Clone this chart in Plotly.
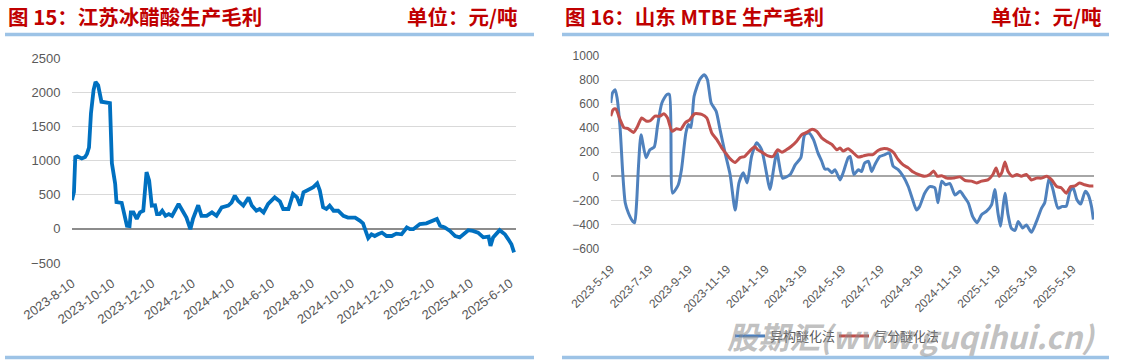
import plotly.graph_objects as go

W, H = 1121, 360

# ---------------- data ----------------
# Fig 15: Jiangsu glacial acetic acid production gross margin (yuan/ton)
acetic_dates = [
    "2023-08-10", "2023-08-13", "2023-08-15", "2023-08-18", "2023-08-25", "2023-08-30",
    "2023-09-02", "2023-09-05", "2023-09-08", "2023-09-12", "2023-09-15", "2023-09-19",
    "2023-09-24", "2023-10-07", "2023-10-10", "2023-10-15", "2023-10-17", "2023-10-25",
    "2023-11-02", "2023-11-06", "2023-11-08", "2023-11-12", "2023-11-17", "2023-11-22",
    "2023-11-27", "2023-12-02", "2023-12-06", "2023-12-10", "2023-12-15", "2023-12-18",
    "2023-12-22", "2023-12-26", "2023-12-31", "2024-01-05", "2024-01-10", "2024-01-20",
    "2024-01-26", "2024-02-01", "2024-02-07", "2024-02-11", "2024-02-19", "2024-02-24",
    "2024-03-03", "2024-03-11", "2024-03-18", "2024-03-26", "2024-04-05", "2024-04-10",
    "2024-04-15", "2024-04-20", "2024-04-28", "2024-05-06", "2024-05-11", "2024-05-18",
    "2024-05-23", "2024-05-29", "2024-06-05", "2024-06-15", "2024-06-23", "2024-06-28",
    "2024-07-06", "2024-07-13", "2024-07-19", "2024-07-24", "2024-07-29", "2024-08-08",
    "2024-08-13", "2024-08-19", "2024-08-23", "2024-08-28", "2024-09-02", "2024-09-07",
    "2024-09-13", "2024-09-20", "2024-09-28", "2024-10-05", "2024-10-16", "2024-10-23",
    "2024-10-28", "2024-11-02", "2024-11-05", "2024-11-10", "2024-11-15", "2024-11-20",
    "2024-11-26", "2024-12-03", "2024-12-11", "2024-12-18", "2024-12-26", "2025-01-03",
    "2025-01-08", "2025-01-13", "2025-01-23", "2025-02-02", "2025-02-10", "2025-02-18",
    "2025-02-23", "2025-03-02", "2025-03-10", "2025-03-18", "2025-03-25", "2025-04-02",
    "2025-04-07", "2025-04-14", "2025-04-22", "2025-04-30", "2025-05-08", "2025-05-11",
    "2025-05-15", "2025-05-25", "2025-06-02", "2025-06-07", "2025-06-12", "2025-06-16",
]
acetic_margin = [
    420, 540, 1050, 1060, 1030, 1050,
    1100, 1190, 1690, 2030, 2150, 2100,
    1860, 1840, 960, 660, 390, 380,
    45, 40, 240, 240, 145, 240,
    265, 830, 705, 340, 345, 215,
    215, 265, 190, 215, 190, 365,
    265, 165, -5, 145, 345, 190,
    190, 240, 190, 315, 340, 385,
    485, 410, 340, 460, 340, 265,
    290, 240, 365, 460, 400, 290,
    290, 510, 460, 340, 535, 585,
    610, 665, 560, 315, 290, 340,
    265, 265, 190, 165, 165, 120,
    80, -55, -135, -80, -105, -80,
    -55, -105, -105, -70, -80, 20,
    -5, -5, 70, 80, 120, 145,
    45, 20, -30, -105, -125, -55,
    -20, -30, -55, -125, -115, -250,
    -125, -20, -80, -150, -225, -345,
]
acetic_tickvals = ["2023-08-10", "2023-10-10", "2023-12-10", "2024-02-10", "2024-04-10",
                   "2024-06-10", "2024-08-10", "2024-10-10", "2024-12-10", "2025-02-10",
                   "2025-04-10", "2025-06-10"]
acetic_ticktext = ["2023-8-10", "2023-10-10", "2023-12-10", "2024-2-10", "2024-4-10",
                   "2024-6-10", "2024-8-10", "2024-10-10", "2024-12-10", "2025-2-10",
                   "2025-4-10", "2025-6-10"]

# Fig 16: Shandong MTBE production gross margin (yuan/ton)
iso_dates = [
    "2023-05-19", "2023-05-22", "2023-05-26", "2023-05-29", "2023-06-03", "2023-06-07",
    "2023-06-11", "2023-06-16", "2023-06-23", "2023-06-26", "2023-06-29", "2023-07-02",
    "2023-07-06", "2023-07-14", "2023-07-20", "2023-07-27", "2023-08-01", "2023-08-08",
    "2023-08-16", "2023-08-20", "2023-08-25", "2023-09-03", "2023-09-08", "2023-09-15",
    "2023-09-19", "2023-09-23", "2023-09-28", "2023-10-07", "2023-10-14", "2023-10-19",
    "2023-10-25", "2023-11-02", "2023-11-08", "2023-11-16", "2023-11-24", "2023-12-02",
    "2023-12-08", "2023-12-15", "2023-12-21", "2023-12-28", "2024-01-05", "2024-01-13",
    "2024-01-21", "2024-01-26", "2024-02-06", "2024-02-15", "2024-02-27", "2024-03-06",
    "2024-03-15", "2024-03-21", "2024-03-28", "2024-04-04", "2024-04-11", "2024-04-17",
    "2024-04-22", "2024-04-27", "2024-05-03", "2024-05-08", "2024-05-16", "2024-05-21",
    "2024-05-29", "2024-06-01", "2024-06-07", "2024-06-14", "2024-06-19", "2024-06-24",
    "2024-06-30", "2024-07-05", "2024-07-10", "2024-07-18", "2024-07-26", "2024-08-02",
    "2024-08-08", "2024-08-16", "2024-08-24", "2024-09-01", "2024-09-08", "2024-09-14",
    "2024-09-19", "2024-09-27", "2024-10-05", "2024-10-13", "2024-10-18", "2024-10-24",
    "2024-10-30", "2024-11-06", "2024-11-14", "2024-11-22", "2024-11-28", "2024-12-05",
    "2024-12-12", "2024-12-19", "2024-12-26", "2025-01-03", "2025-01-11", "2025-01-16",
    "2025-01-21", "2025-01-25", "2025-01-28", "2025-02-01", "2025-02-06", "2025-02-11",
    "2025-02-17", "2025-02-22", "2025-03-01", "2025-03-07", "2025-03-15", "2025-03-23",
    "2025-03-31", "2025-04-05", "2025-04-12", "2025-04-18", "2025-04-26", "2025-05-03",
    "2025-05-09", "2025-05-15", "2025-05-20", "2025-05-26", "2025-06-01", "2025-06-08",
    "2025-06-13", "2025-06-18", "2025-06-21",
]
iso_margin = [
    610, 695, 720, 655, 390, 30,
    -220, -305, -375, -385, -220, 85,
    345, 155, 220, 245, 415, 610,
    680, 680, -140, -70, 55, 360,
    430, 405, 665, 805, 845, 805,
    610, 540, 390, 195, 15, -280,
    -55, 30, -55, 165, 280, 220,
    15, -110, 195, -15, 15, 95,
    155, 345, 360, 305, 195, 125,
    60, 60, 30, 55, -30, 30,
    155, 165, 15, 55, 40, 110,
    125, 40, 95, 165, 180, 195,
    85, 55, 0, -85, -195, -280,
    -250, -140, -85, -95, -220, -40,
    -70, -60, -155, -125, -165, -220,
    -335, -385, -320, -290, -235, -110,
    -305, -415, -305, -140, -320, -430,
    -450, -375, -430, -405, -465, -375,
    -265, -220, -15, -110, -265, -250,
    -250, -125, -95, -195, -230, -125,
    -155, -250, -360,
]
gas_dates = [
    "2023-05-19", "2023-05-23", "2023-05-27", "2023-06-03", "2023-06-09", "2023-06-16",
    "2023-06-24", "2023-06-30", "2023-07-07", "2023-07-14", "2023-07-20", "2023-07-28",
    "2023-08-05", "2023-08-11", "2023-08-17", "2023-08-24", "2023-08-31", "2023-09-07",
    "2023-09-14", "2023-09-21", "2023-09-29", "2023-10-10", "2023-10-18", "2023-10-26",
    "2023-11-03", "2023-11-11", "2023-11-19", "2023-11-25", "2023-12-02", "2023-12-10",
    "2023-12-17", "2023-12-25", "2024-01-02", "2024-01-07", "2024-01-15", "2024-01-23",
    "2024-01-31", "2024-02-07", "2024-02-14", "2024-02-21", "2024-02-29", "2024-03-08",
    "2024-03-16", "2024-03-24", "2024-04-01", "2024-04-09", "2024-04-17", "2024-04-25",
    "2024-05-03", "2024-05-11", "2024-05-16", "2024-05-21", "2024-05-29", "2024-06-06",
    "2024-06-14", "2024-06-22", "2024-06-30", "2024-07-07", "2024-07-15", "2024-07-23",
    "2024-08-03", "2024-08-09", "2024-08-16", "2024-08-24", "2024-09-01", "2024-09-09",
    "2024-09-17", "2024-09-27", "2024-10-05", "2024-10-11", "2024-10-17", "2024-10-24",
    "2024-11-01", "2024-11-11", "2024-11-22", "2024-11-30", "2024-12-10", "2024-12-18",
    "2024-12-26", "2025-01-05", "2025-01-13", "2025-01-18", "2025-01-23", "2025-01-27",
    "2025-02-01", "2025-02-06", "2025-02-13", "2025-02-20", "2025-02-27", "2025-03-07",
    "2025-03-15", "2025-03-23", "2025-03-31", "2025-04-08", "2025-04-16", "2025-04-24",
    "2025-05-01", "2025-05-09", "2025-05-16", "2025-05-23", "2025-05-30", "2025-06-07",
    "2025-06-15", "2025-06-21",
]
gas_margin = [
    500, 555, 560, 470, 405, 395,
    365, 410, 485, 460, 460, 500,
    500, 520, 485, 375, 395, 390,
    445, 470, 520, 515, 485, 360,
    305, 235, 180, 140, 115, 155,
    165, 210, 245, 220, 195, 170,
    165, 220, 200, 220, 250, 290,
    345, 365, 390, 375, 320, 290,
    265, 220, 235, 210, 230, 195,
    160, 170, 180, 180, 215, 230,
    220, 195, 140, 95, 70, 35,
    15, 0, 15, 45, 0, 5,
    -15, -15, -5, -35, -40, -55,
    -40, -30, 15, 70, 0, 30,
    120, 40, 0, 15, 0, 15,
    -30, -15, -15, 0, -30, -85,
    -95, -140, -85, -80, -55, -70,
    -80, -80,
]
mtbe_tickvals = ["2023-05-19", "2023-07-19", "2023-09-19", "2023-11-19", "2024-01-19",
                 "2024-03-19", "2024-05-19", "2024-07-19", "2024-09-19", "2024-11-19",
                 "2025-01-19", "2025-03-19", "2025-05-19"]
mtbe_ticktext = ["2023-5-19", "2023-7-19", "2023-9-19", "2023-11-19", "2024-1-19",
                 "2024-3-19", "2024-5-19", "2024-7-19", "2024-9-19", "2024-11-19",
                 "2025-1-19", "2025-3-19", "2025-5-19"]

series_names = ["异构醚化法", "气分醚化法"]

# ---------------- styling helpers ----------------
def px(x):
    return x / W

def py(y):
    return 1 - y / H

NUM_FONT = "Liberation Sans, Noto Sans CJK SC, sans-serif"
CJK_FONT = "Noto Sans CJK SC, sans-serif"
GRAY = "#595959"
GRID = "#D9D9D9"
TITLE_RED = "#C00000"
BAR_BLUE = "#9DC3E6"

fig = go.Figure()

fig.add_trace(go.Scatter(
    x=acetic_dates, y=acetic_margin, mode="lines",
    line=dict(color="#0070C0", width=3.8), showlegend=False,
    xaxis="x", yaxis="y",
))
fig.add_trace(go.Scatter(
    x=iso_dates, y=iso_margin, mode="lines", name=series_names[0],
    line=dict(color="#4F81BD", width=3, shape="spline", smoothing=0.6),
    xaxis="x2", yaxis="y2",
))
fig.add_trace(go.Scatter(
    x=gas_dates, y=gas_margin, mode="lines", name=series_names[1],
    line=dict(color="#C0504D", width=3, shape="spline", smoothing=0.6),
    xaxis="x2", yaxis="y2",
))

fig.update_layout(
    width=W, height=H,
    margin=dict(l=0, r=0, t=0, b=0, autoexpand=False),
    paper_bgcolor="white", plot_bgcolor="white",
    xaxis=dict(
        domain=[px(72), px(516)], anchor="y", type="date", automargin=False,
        range=["2023-08-10", "2025-06-19"],
        tickvals=acetic_tickvals, ticktext=acetic_ticktext, tickangle=-36,
        tickfont=dict(family=NUM_FONT, size=13, color=GRAY),
        showgrid=False, showline=False, zeroline=False,
        ticks="outside", ticklen=7, tickcolor="rgba(0,0,0,0)",
    ),
    yaxis=dict(
        domain=[py(263), py(58)], anchor="x", automargin=False,
        range=[-500, 2500], dtick=500,
        tickfont=dict(family=NUM_FONT, size=13, color=GRAY),
        gridcolor=GRID, gridwidth=1, showline=False,
        zeroline=True, zerolinecolor="#8C8C8C", zerolinewidth=1.5,
        ticks="outside", ticklen=8, tickcolor="rgba(0,0,0,0)",
    ),
    xaxis2=dict(
        domain=[px(610.7), px(1094)], anchor="y2", type="date", automargin=False,
        range=["2023-05-19", "2025-06-22"],
        tickvals=mtbe_tickvals, ticktext=mtbe_ticktext, tickangle=-45,
        tickfont=dict(family=NUM_FONT, size=12, color=GRAY),
        showgrid=False, showline=False, zeroline=False,
        ticks="outside", ticklen=8, tickcolor="rgba(0,0,0,0)",
    ),
    yaxis2=dict(
        domain=[py(248.5), py(56)], anchor="x2", automargin=False,
        range=[-600, 1000], dtick=200,
        tickfont=dict(family=NUM_FONT, size=12, color=GRAY),
        gridcolor=GRID, gridwidth=1, showline=False,
        zeroline=True, zerolinecolor="#A6A6A6", zerolinewidth=1.5,
        ticks="outside", ticklen=8, tickcolor="rgba(0,0,0,0)",
    ),
    # tick marks sitting on the zero line of the MTBE chart
    xaxis3=dict(
        overlaying="x2", anchor="free", position=py(176.7), type="date",
        automargin=False, range=["2023-05-19", "2025-06-22"], tickvals=mtbe_tickvals,
        showticklabels=False, showgrid=False, showline=False, zeroline=False,
        ticks="outside", ticklen=5, tickcolor="#A6A6A6", tickwidth=1.5,
    ),
    legend=dict(
        orientation="h", x=px(730), y=py(336), xanchor="left", yanchor="middle",
        font=dict(family=CJK_FONT, size=13, color=GRAY),
        bgcolor="rgba(0,0,0,0)", itemwidth=30, tracegroupgap=0,
        entrywidth=59, entrywidthmode="pixels",
    ),
)

# title bars and separators
for x0, x1 in [(5, 534), (562, 1109)]:
    fig.add_shape(type="line", xref="paper", yref="paper",
                  x0=px(x0), x1=px(x1), y0=py(34.6), y1=py(34.6),
                  line=dict(color=BAR_BLUE, width=3.5))
    fig.add_shape(type="line", xref="paper", yref="paper",
                  x0=px(x0), x1=px(x1), y0=py(357.5), y1=py(357.5),
                  line=dict(color=BAR_BLUE, width=3.5))

title_font = dict(family=CJK_FONT, size=20.5, color=TITLE_RED)
annos = [
    dict(text="<b>图 15：江苏冰醋酸生产毛利</b>", x=px(6), xanchor="left"),
    dict(text="<b>单位：元/吨</b>", x=px(519), xanchor="right"),
    dict(text="<b>图 16：山东 MTBE 生产毛利</b>", x=px(562.5), xanchor="left"),
    dict(text="<b>单位：元/吨</b>", x=px(1103), xanchor="right"),
]
for a in annos:
    fig.add_annotation(xref="paper", yref="paper", y=py(16), yanchor="middle",
                       showarrow=False, font=title_font, **a)

# site watermark overlay
fig.add_annotation(xref="paper", yref="paper", x=px(911), y=py(335), xanchor="center",
                   yanchor="middle", showarrow=False,
                   text="<b><i>股期汇(www.guqihui.cn)</i></b>",
                   font=dict(family=CJK_FONT, size=31, color="rgba(140,140,140,0.55)"))

fig.write_html("out.html", config={"displayModeBar": False},
               post_script="document.body.style.margin='0';")
